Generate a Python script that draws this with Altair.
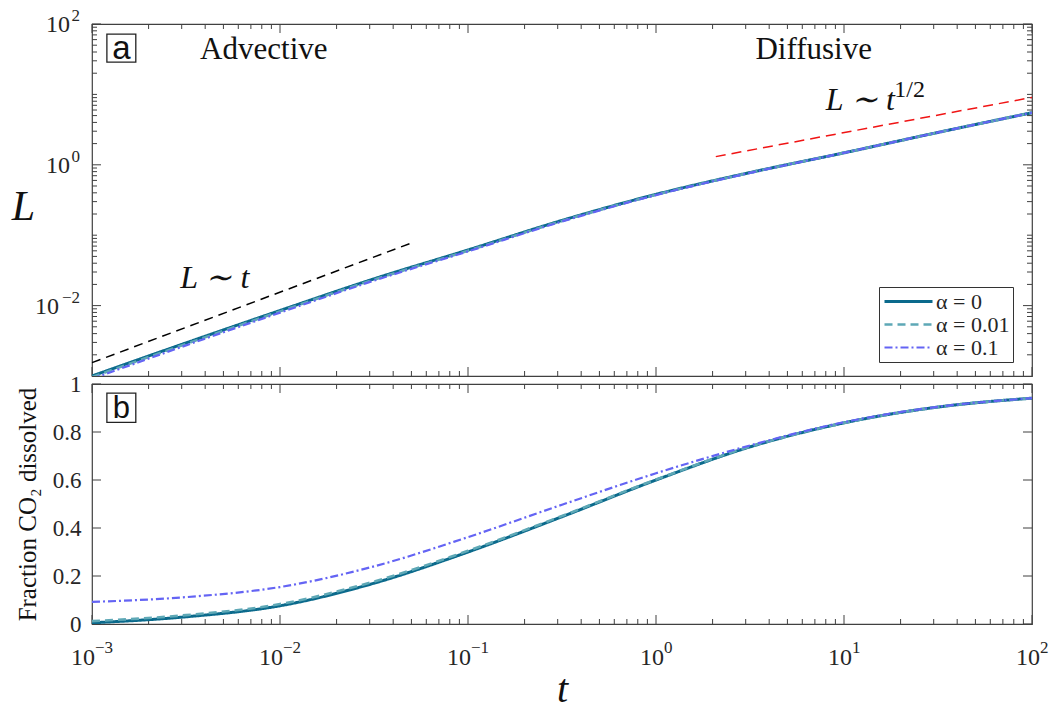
import altair as alt
import pandas as pd

# ---------------- data ----------------
series_names = ["α = 0", "α = 0.01", "α = 0.1"]
series_colors = ["#0b6a8c", "#5ea8b6", "#6464f4"]
series_dash = [[1, 0], [8, 5], [8, 3, 2, 3]]
series_width = [3.0, 2.2, 1.8]

log_t = [-3, -2.5, -2, -1.5, -1, -0.5, 0, 0.5, 1, 1.5, 2]
logL_a0 = [-3.00, -2.53, -2.07, -1.62, -1.21, -0.79, -0.42, -0.11, 0.17, 0.46, 0.74]
logL_a001 = [-3.015, -2.545, -2.082, -1.632, -1.22, -0.797, -0.425, -0.112, 0.17, 0.46, 0.74]
logL_a01 = [-3.04, -2.565, -2.10, -1.645, -1.23, -0.805, -0.43, -0.115, 0.17, 0.46, 0.74]

frac_a0 = [0.005, 0.03, 0.076, 0.17, 0.30, 0.447, 0.60, 0.738, 0.838, 0.904, 0.941]
frac_a001 = [0.012, 0.037, 0.083, 0.177, 0.305, 0.45, 0.602, 0.739, 0.838, 0.904, 0.941]
frac_a01 = [0.092, 0.112, 0.154, 0.24, 0.362, 0.497, 0.628, 0.744, 0.841, 0.905, 0.941]

adv_t = [1e-3, 0.0498]
adv_L = [1.55e-3, 0.0772]
diff_t = [2.08, 100.0]
diff_L = [1.307, 9.06]

x_tick_values = [1e-3, 1e-2, 1e-1, 1.0, 10.0, 100.0]
x_tick_exps = ["−3", "−2", "−1", "0", "1", "2"]
y_top_label_values = [1e-2, 1.0, 100.0]
y_top_exps = ["−2", "0", "2"]
y_bot_values = [0, 0.2, 0.4, 0.6, 0.8, 1.0]

region_text = ["Advective", "Diffusive"]
region_t = [8.2e-3, 6.9]
region_L = [31.6, 31.6]

# ---------------- tables ----------------
t_vals = [10 ** v for v in log_t]
top_rows, bot_rows = [], []
for name, lv, fv in zip(series_names, [logL_a0, logL_a001, logL_a01], [frac_a0, frac_a001, frac_a01]):
    for t, l, f in zip(t_vals, lv, fv):
        top_rows.append({"t": t, "L": 10 ** l, "alpha": name})
        bot_rows.append({"t": t, "F": f, "alpha": name})
df_top = pd.DataFrame(top_rows)
df_bot = pd.DataFrame(bot_rows)

x_minor = [k * 10 ** e for e in range(-3, 2) for k in range(2, 10)]
y_top_minor = [k * 10 ** e for e in range(-3, 2) for k in range(1, 10) if not (k == 1 and e in (-2, 0))]
y_top_minor = [v for v in y_top_minor if v > 1e-3]

W, H1, H2 = 940, 352, 240
AX = "#404040"
LAB = "#262626"
SERIF = "Liberation Serif"
SANS = "Liberation Sans"
BASE_FS, EXP_FS = 24, 17

xscale = alt.Scale(type="log", domain=[1e-3, 1e2], nice=False)
yscaleL = alt.Scale(type="log", domain=[1e-3, 1e2], nice=False)
yscaleF = alt.Scale(domain=[0, 1], nice=False, zero=False)

xaxis_top = alt.Axis(title=None, labels=False, ticks=False, domain=False, grid=False)
yaxis_top = alt.Axis(values=y_top_label_values, labels=False, ticks=False, domain=False, grid=False,
                     title="L", titleFont=SERIF, titleFontStyle="italic", titleFontWeight="normal",
                     titleFontSize=42, titleColor="#111", titleAngle=0, titleAlign="center",
                     titleBaseline="alphabetic", titleX=-69, titleY=195)
xaxis_bot = alt.Axis(values=x_tick_values, labels=False, ticks=False, domain=False, grid=False,
                     title="t", titleFont=SERIF, titleFontStyle="italic", titleFontWeight="normal",
                     titleFontSize=40, titleColor="#111", titleBaseline="alphabetic",
                     titleY=77, titleX=W / 2, titleAlign="center")
yaxis_bot = alt.Axis(values=y_bot_values, format="~g", ticks=False, domain=False, grid=False,
                     labelFont=SERIF, labelFontSize=23, labelColor=LAB, labelPadding=11,
                     labelFlush=False, labelOverlap=False,
                     title="Fraction CO₂ dissolved", titleFont=SERIF, titleFontWeight="normal",
                     titleFontSize=25, titleColor="#111", titleAngle=270, titleAlign="center",
                     titleBaseline="middle", titleX=-65, titleY=120)

legend = alt.Legend(title=None, orient="none", legendX=787, legendY=263, padding=3, strokeColor="#333",
                    fillColor="white", symbolType="M-2.4,0L2.4,0", symbolSize=400, symbolOffset=15,
                    labelFont=SERIF, labelFontSize=22, labelColor=LAB, rowPadding=0, labelOffset=16)


def series_layer(df, yfield, yscale, xaxis, yaxis, show_legend):
    lg = legend if show_legend else None
    return alt.Chart(df).mark_line(interpolate="monotone", clip=True).encode(
        x=alt.X("t:Q", scale=xscale, axis=xaxis),
        y=alt.Y(yfield, scale=yscale, axis=yaxis),
        color=alt.Color("alpha:N", scale=alt.Scale(domain=series_names, range=series_colors), legend=lg),
        strokeDash=alt.StrokeDash("alpha:N", scale=alt.Scale(domain=series_names, range=series_dash), legend=lg),
        strokeWidth=alt.StrokeWidth("alpha:N", scale=alt.Scale(domain=series_names, range=series_width), legend=lg),
    )


def tick_layers(yscale, xaxis, yaxis, H, y_major, y_minor):
    layers = []
    for vals, ln in [(x_tick_values, 9), (x_minor, 5)]:
        d = pd.DataFrame({"v": vals})
        layers.append(alt.Chart(d).mark_rule(color=AX, strokeWidth=1).encode(
            x=alt.X("v:Q", scale=xscale, axis=xaxis), y=alt.value(H), y2=alt.value(H - ln)))
        layers.append(alt.Chart(d).mark_rule(color=AX, strokeWidth=1).encode(
            x=alt.X("v:Q", scale=xscale, axis=xaxis), y=alt.value(0), y2=alt.value(ln)))
    for vals, ln in [(y_major, 9), (y_minor, 5)]:
        if not vals:
            continue
        d = pd.DataFrame({"v": vals})
        layers.append(alt.Chart(d).mark_rule(color=AX, strokeWidth=1).encode(
            y=alt.Y("v:Q", scale=yscale, axis=yaxis), x=alt.value(0), x2=alt.value(ln)))
        layers.append(alt.Chart(d).mark_rule(color=AX, strokeWidth=1).encode(
            y=alt.Y("v:Q", scale=yscale, axis=yaxis), x=alt.value(W), x2=alt.value(W - ln)))
    return layers


def x_power_labels(xaxis, yscale, yaxis, H):
    """'10' + raised exponent under each decade tick."""
    layers = []
    neg = [(v, e) for v, e in zip(x_tick_values, x_tick_exps) if e.startswith("−")]
    pos = [(v, e) for v, e in zip(x_tick_values, x_tick_exps) if not e.startswith("−")]
    for group, shift in [(neg, 3), (pos, 8)]:
        d = pd.DataFrame({"v": [g[0] for g in group], "e": [g[1] for g in group], "b": ["10"] * len(group)})
        layers.append(alt.Chart(d).mark_text(font=SERIF, fontSize=BASE_FS, align="right", baseline="alphabetic",
                                             color=LAB, dx=shift).encode(
            x=alt.X("v:Q", scale=xscale, axis=xaxis), y=alt.value(H + 41), text="b:N"))
        layers.append(alt.Chart(d).mark_text(font=SERIF, fontSize=EXP_FS, align="left", baseline="alphabetic",
                                             color=LAB, dx=shift).encode(
            x=alt.X("v:Q", scale=xscale, axis=xaxis), y=alt.value(H + 29), text="e:N"))
    return layers


def y_power_labels(xaxis, yscale, yaxis):
    layers = []
    neg = [(v, e) for v, e in zip(y_top_label_values, y_top_exps) if e.startswith("−")]
    pos = [(v, e) for v, e in zip(y_top_label_values, y_top_exps) if not e.startswith("−")]
    for group, base_x in [(neg, -33), (pos, -22)]:
        d = pd.DataFrame({"v": [g[0] for g in group], "e": [g[1] for g in group], "b": ["10"] * len(group)})
        layers.append(alt.Chart(d).mark_text(font=SERIF, fontSize=BASE_FS, align="right", baseline="alphabetic",
                                             color=LAB, dy=8).encode(
            y=alt.Y("v:Q", scale=yscale, axis=yaxis), x=alt.value(base_x), text="b:N"))
        layers.append(alt.Chart(d).mark_text(font=SERIF, fontSize=EXP_FS, align="right", baseline="alphabetic",
                                             color=LAB, dy=-3).encode(
            y=alt.Y("v:Q", scale=yscale, axis=yaxis), x=alt.value(-12), text="e:N"))
    return layers


# ---------------- top panel ----------------
top_lines = series_layer(df_top, "L:Q", yscaleL, xaxis_top, yaxis_top, True)

adv_df = pd.DataFrame({"t": adv_t, "L": adv_L})
diff_df = pd.DataFrame({"t": diff_t, "L": diff_L})
ref_black = alt.Chart(adv_df).mark_line(color="black", strokeDash=[9, 6], strokeWidth=1.5).encode(
    x=alt.X("t:Q", scale=xscale, axis=xaxis_top), y=alt.Y("L:Q", scale=yscaleL, axis=yaxis_top))
ref_red = alt.Chart(diff_df).mark_line(color="#f01414", strokeDash=[10, 6], strokeWidth=1.5).encode(
    x=alt.X("t:Q", scale=xscale, axis=xaxis_top), y=alt.Y("L:Q", scale=yscaleL, axis=yaxis_top))

reg_df = pd.DataFrame({"t": region_t, "L": region_L, "txt": region_text})
reg_text = alt.Chart(reg_df).mark_text(font=SERIF, fontSize=31, align="center", baseline="alphabetic",
                                       color="#111").encode(
    x=alt.X("t:Q", scale=xscale, axis=xaxis_top), y=alt.Y("L:Q", scale=yscaleL, axis=yaxis_top), text="txt:N")

law_df = pd.DataFrame({"t": [4.5e-3], "L": [0.0175], "txt": ["L ∼ t"]})
law_text = alt.Chart(law_df).mark_text(font=SERIF, fontSize=32, fontStyle="italic", align="center",
                                       baseline="alphabetic", color="#111").encode(
    x=alt.X("t:Q", scale=xscale, axis=xaxis_top), y=alt.Y("L:Q", scale=yscaleL, axis=yaxis_top), text="txt:N")
law2_df = pd.DataFrame({"t": [8.0], "L": [6.1], "txt": ["L ∼ t"]})
law2_text = alt.Chart(law2_df).mark_text(font=SERIF, fontSize=32, fontStyle="italic", align="left",
                                         baseline="alphabetic", color="#111").encode(
    x=alt.X("t:Q", scale=xscale, axis=xaxis_top), y=alt.Y("L:Q", scale=yscaleL, axis=yaxis_top), text="txt:N")
sup_df = pd.DataFrame({"t": [18.5], "L": [9.3], "txt": ["1/2"]})
sup_text = alt.Chart(sup_df).mark_text(font=SERIF, fontSize=24, align="left", baseline="alphabetic",
                                       color="#111").encode(
    x=alt.X("t:Q", scale=xscale, axis=xaxis_top), y=alt.Y("L:Q", scale=yscaleL, axis=yaxis_top), text="txt:N")

boxa_df = pd.DataFrame({"t": [1.2e-3], "t2": [1.71e-3], "L": [72.0], "L2": [28.7]})
boxa = alt.Chart(boxa_df).mark_rect(fill="white", stroke="#222", strokeWidth=1.3).encode(
    x=alt.X("t:Q", scale=xscale, axis=xaxis_top), x2="t2:Q",
    y=alt.Y("L:Q", scale=yscaleL, axis=yaxis_top), y2="L2:Q")
texta_df = pd.DataFrame({"t": [1.435e-3], "L": [31.6], "txt": ["a"]})
texta = alt.Chart(texta_df).mark_text(font=SANS, fontSize=33, align="center", baseline="alphabetic",
                                      color="#111").encode(
    x=alt.X("t:Q", scale=xscale, axis=xaxis_top), y=alt.Y("L:Q", scale=yscaleL, axis=yaxis_top), text="txt:N")

top = alt.layer(
    *tick_layers(yscaleL, xaxis_top, yaxis_top, H1, [1e-2, 1.0, 100.0], y_top_minor),
    *y_power_labels(xaxis_top, yscaleL, yaxis_top),
    ref_black, ref_red, top_lines, reg_text, law_text, law2_text, sup_text, boxa, texta,
).properties(width=W, height=H1)

# ---------------- bottom panel ----------------
bot_lines = series_layer(df_bot, "F:Q", yscaleF, xaxis_bot, yaxis_bot, False)
boxb_df = pd.DataFrame({"t": [1.2e-3], "t2": [1.71e-3], "F": [0.962], "F2": [0.840]})
boxb = alt.Chart(boxb_df).mark_rect(fill="white", stroke="#222", strokeWidth=1.3).encode(
    x=alt.X("t:Q", scale=xscale, axis=xaxis_bot), x2="t2:Q",
    y=alt.Y("F:Q", scale=yscaleF, axis=yaxis_bot), y2="F2:Q")
textb_df = pd.DataFrame({"t": [1.435e-3], "F": [0.858], "txt": ["b"]})
textb = alt.Chart(textb_df).mark_text(font=SANS, fontSize=31, align="center", baseline="alphabetic",
                                      color="#111").encode(
    x=alt.X("t:Q", scale=xscale, axis=xaxis_bot), y=alt.Y("F:Q", scale=yscaleF, axis=yaxis_bot), text="txt:N")

bottom = alt.layer(
    *tick_layers(yscaleF, xaxis_bot, yaxis_bot, H2, y_bot_values, []),
    *x_power_labels(xaxis_bot, yscaleF, yaxis_bot, H2),
    bot_lines, boxb, textb,
).properties(width=W, height=H2)

chart = alt.vconcat(top, bottom, spacing=8, bounds="flush").resolve_scale(
    color="independent", strokeDash="independent", strokeWidth="independent"
).properties(
    padding={"left": 10, "top": 6, "right": 10, "bottom": 0}, background="white"
).configure_view(stroke=AX, strokeWidth=1.2)

chart.save("out.html", embed_options={"renderer": "svg", "actions": False})
